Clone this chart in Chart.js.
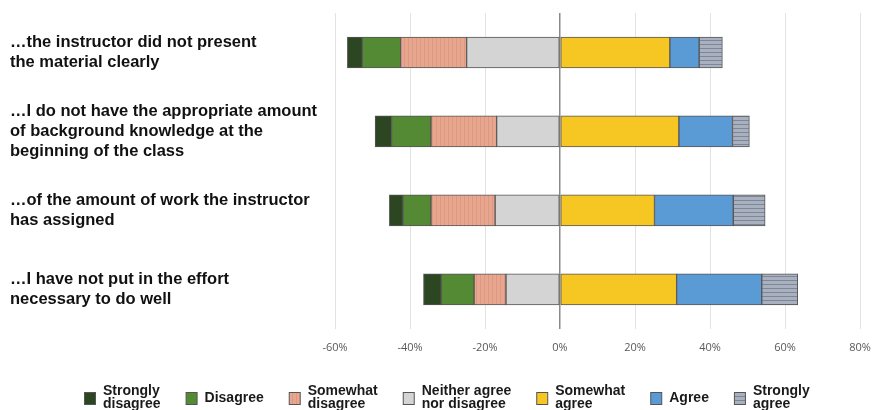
<html>
  <head>
    <title>Reasons for struggling in class</title>
    <script src="https://cdn.jsdelivr.net/npm/chart.js@4.4.1/dist/chart.umd.min.js"></script>
    <style>
      body { margin: 0; background: #fff; }
    </style>
  </head>
  <body>
    <div style="width:873px;height:410px">
      <canvas id="likert"></canvas>
    </div>
    <script>
      var categories = [
        ['\u2026the instructor did not present', 'the material clearly'],
        ['\u2026I do not have the appropriate amount', 'of background knowledge at the', 'beginning of the class'],
        ['\u2026of the amount of work the instructor', 'has assigned'],
        ['\u2026I have not put in the effort', 'necessary to do well']
      ];
      // disagree side is negative
      var stronglyDisagree = [-4.0, -4.4, -3.6, -4.7];
      var disagree = [-10.2, -10.5, -7.5, -8.8];
      var somewhatDisagree = [-17.6, -17.5, -17.1, -8.5];
      var neither = [-24.9, -16.9, -17.3, -14.4];
      var somewhatAgree = [29.3, 31.7, 25.2, 31.1];
      var agree = [7.8, 14.3, 21.0, 22.7];
      var stronglyAgree = [6.2, 4.5, 8.5, 9.6];
      var xTicks = [-60, -40, -20, 0, 20, 40, 60, 80];

      function stripes(bg, line, vertical) {
        var c = document.createElement('canvas');
        c.width = 4; c.height = 4;
        var g = c.getContext('2d');
        g.fillStyle = bg;
        g.fillRect(0, 0, 4, 4);
        g.fillStyle = line;
        if (vertical) g.fillRect(0, 0, 1, 4);
        else g.fillRect(0, 0, 4, 1);
        return g.createPattern(c, 'repeat');
      }

      // stacking order goes outward from zero; legend order is separate
      var sets = [
        {label: ['Neither agree', 'nor disagree'], data: neither, color: '#d4d4d4', pos: 3},
        {label: ['Somewhat', 'disagree'], data: somewhatDisagree, color: stripes('#e8a68e', '#dc9880', true), pos: 2},
        {label: ['Disagree'], data: disagree, color: '#548a33', pos: 1},
        {label: ['Strongly', 'disagree'], data: stronglyDisagree, color: '#2b4620', pos: 0},
        {label: ['Somewhat', 'agree'], data: somewhatAgree, color: '#f6c623', pos: 4},
        {label: ['Agree'], data: agree, color: '#5b9bd5', pos: 5},
        {label: ['Strongly', 'agree'], data: stronglyAgree, color: stripes('#a9b0be', '#7d8699', false), pos: 6}
      ];

      // the built-in legend measures two-line labels as one string, so draw it here
      var bottomLegend = {
        id: 'bottomLegend',
        afterDraw: function(chart) {
          var ctx = chart.ctx;
          var items = sets.slice().sort(function(a, b) { return a.pos - b.pos; });
          var box = 11, gap = 8, spacing = 25, lineH = 13, midY = 398;
          ctx.save();
          ctx.font = 'bold 14px "Liberation Sans", Arial, sans-serif';
          ctx.textBaseline = 'middle';
          ctx.textAlign = 'left';
          var widths = items.map(function(it) {
            return Math.max.apply(null, it.label.map(function(t) { return ctx.measureText(t).width; }));
          });
          var total = widths.reduce(function(a, w) { return a + box + gap + w; }, 0) + spacing * (items.length - 1);
          var x = Math.round(chart.width / 2 + 10 - total / 2);
          items.forEach(function(it, i) {
            ctx.fillStyle = it.color;
            ctx.fillRect(x + 0.5, midY - 6 + 0.5, box, 12);
            ctx.strokeStyle = '#555';
            ctx.lineWidth = 1;
            ctx.strokeRect(x + 0.5, midY - 6 + 0.5, box, 12);
            ctx.fillStyle = '#1a1a1a';
            var y0 = midY - (it.label.length - 1) * lineH / 2;
            it.label.forEach(function(t, k) {
              ctx.fillText(t, x + box + gap, y0 + k * lineH);
            });
            x += box + gap + widths[i] + spacing;
          });
          ctx.restore();
        }
      };

      new Chart('likert', {
        type: 'bar',
        data: {
          labels: categories,
          datasets: sets.map(function(s) {
            return {
              label: s.label.join(' '),
              data: s.data,
              backgroundColor: s.color,
              borderColor: '#555',
              borderWidth: 1,
              borderSkipped: false,
              barThickness: 31
            };
          })
        },
        options: {
          indexAxis: 'y',
          responsive: true,
          maintainAspectRatio: false,
          animation: false,
          layout: {padding: {left: 10, right: 13, top: 13, bottom: 44}},
          scales: {
            x: {
              stacked: true,
              min: -60,
              max: 80,
              afterBuildTicks: function(scale) {
                scale.ticks = xTicks.map(function(v) { return {value: v}; });
              },
              afterFit: function(scale) { scale.paddingLeft = 0; scale.paddingRight = 0; },
              border: {display: false},
              grid: {
                color: function(ctx) { return ctx.tick && ctx.tick.value === 0 ? '#8a8a8a' : '#e3e3e3'; },
                lineWidth: function(ctx) { return ctx.tick && ctx.tick.value === 0 ? 1.5 : 1; },
                drawTicks: false
              },
              ticks: {
                padding: 12,
                color: '#595959',
                font: {family: 'Open Sans', size: 11},
                callback: function(v) { return v + '%'; }
              }
            },
            y: {
              stacked: true,
              border: {display: false},
              grid: {display: false},
              afterFit: function(scale) {
                scale.width = 325;
                scale.paddingTop = 0;
                scale.paddingBottom = 0;
              },
              ticks: {
                crossAlign: 'far',
                color: '#111',
                font: {family: 'Liberation Sans', size: 16.5, weight: 'bold', lineHeight: 1.2}
              }
            }
          },
          plugins: {
            tooltip: {enabled: false},
            legend: {display: false}
          }
        },
        plugins: [bottomLegend]
      });
    </script>
  </body>
</html>
